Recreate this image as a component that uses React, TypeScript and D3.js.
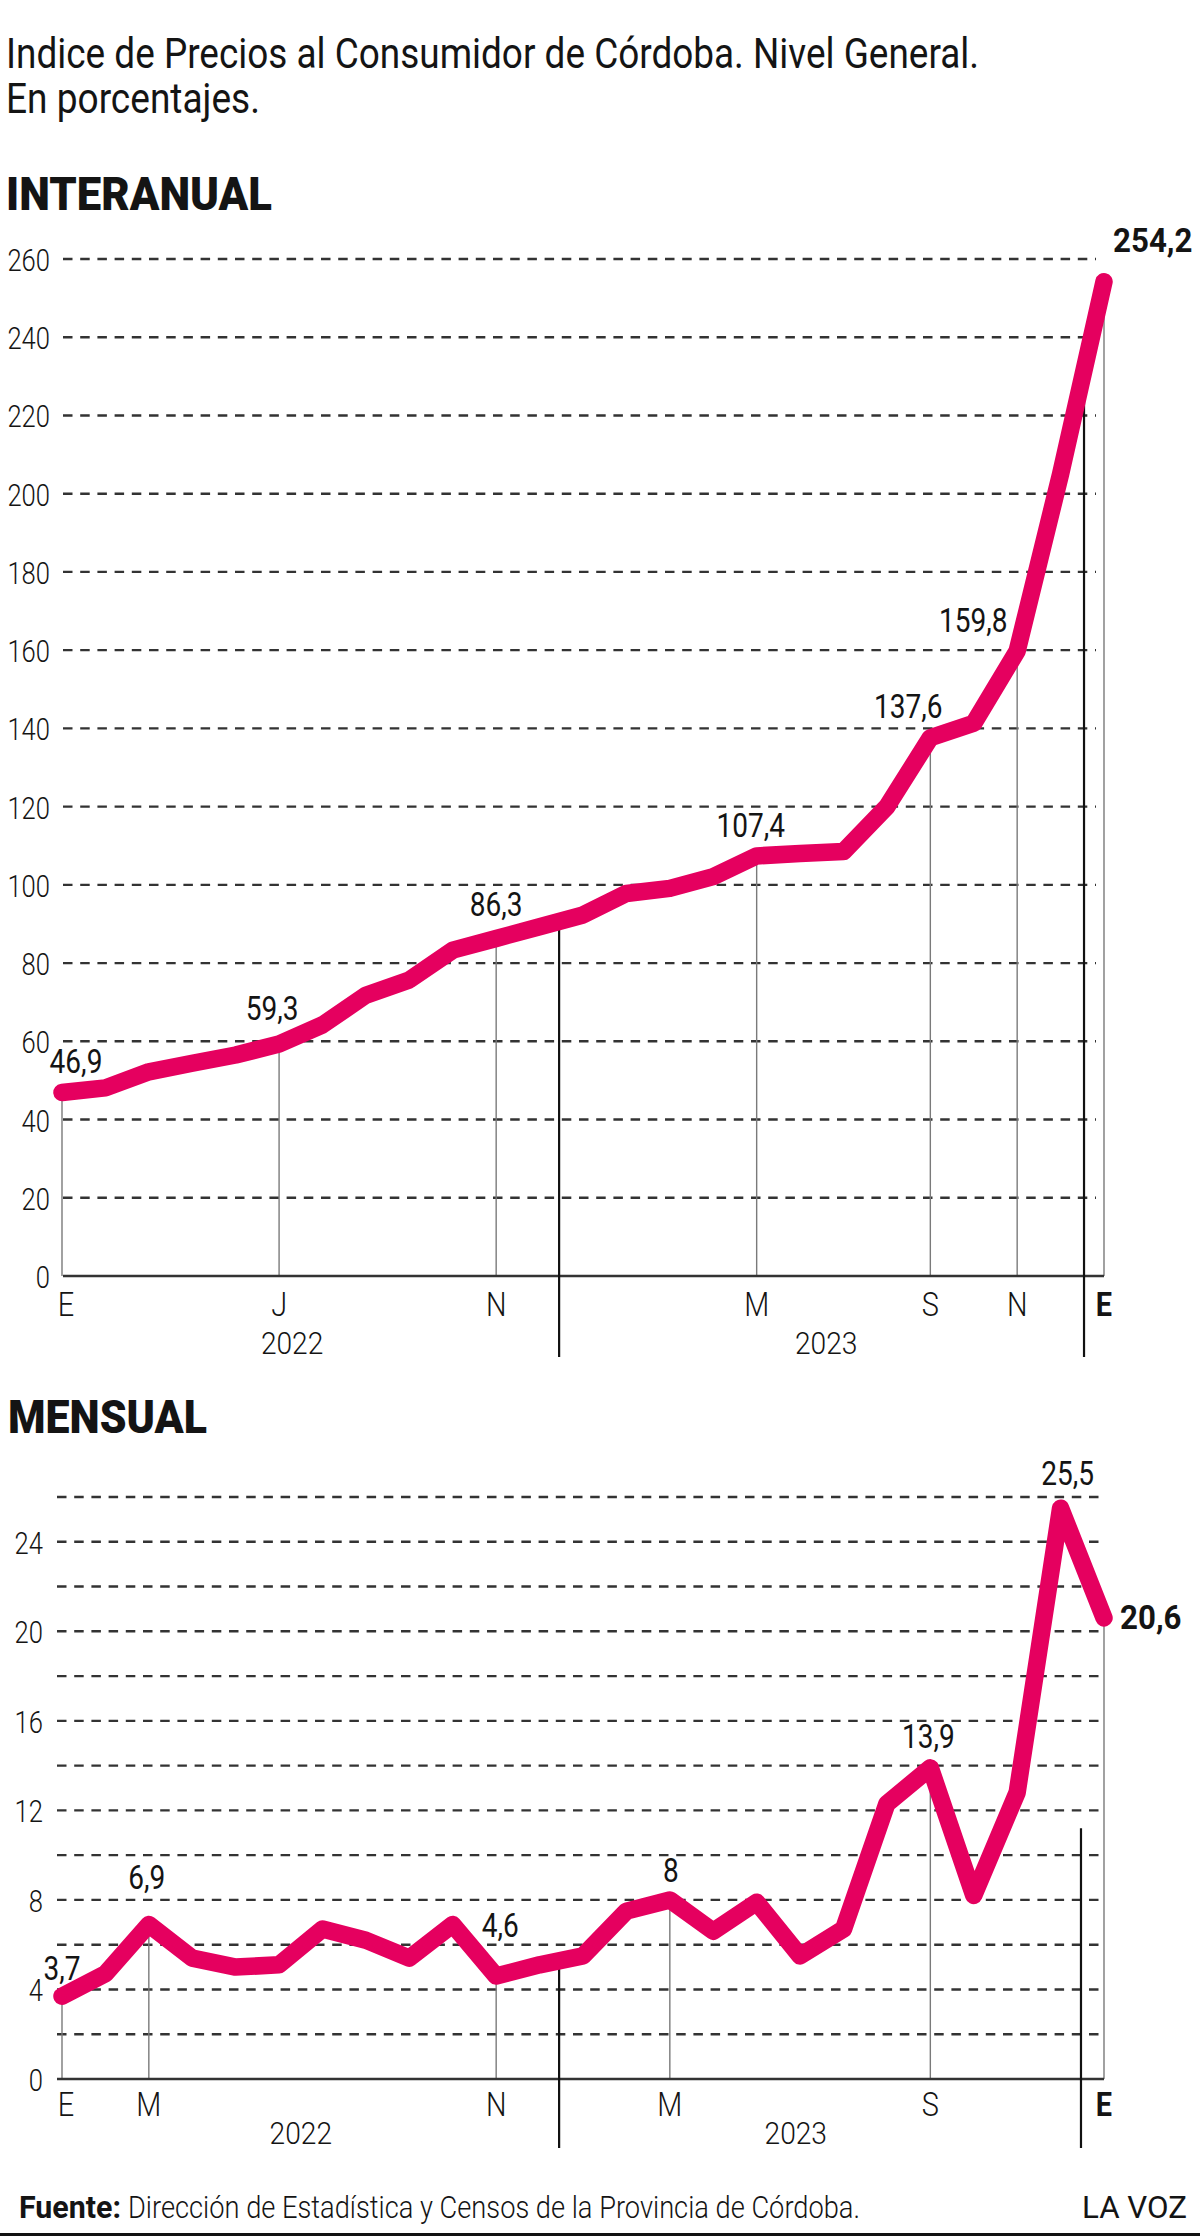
import React from "react"
import * as d3 from "d3"

// meses de la serie (ene-22 a ene-24)
const meses = [
  "ene-22", "feb-22", "mar-22", "abr-22", "may-22", "jun-22", "jul-22", "ago-22",
  "sep-22", "oct-22", "nov-22", "dic-22", "ene-23", "feb-23", "mar-23", "abr-23",
  "may-23", "jun-23", "jul-23", "ago-23", "sep-23", "oct-23", "nov-23", "dic-23", "ene-24"
]

// variación interanual (%)
const interanual = [
  46.9, 48.1, 52.2, 54.4, 56.5, 59.3, 64.2, 71.8, 75.7, 83.3, 86.3, 89.3,
  92.3, 97.8, 99.1, 102.1, 107.4, 108.0, 108.5, 120.0, 137.6, 141.3, 159.8, 205.0, 254.2
]

// variación mensual (%)
const mensual = [
  3.7, 4.7, 6.9, 5.4, 5.0, 5.1, 6.7, 6.2, 5.4, 6.9, 4.6, 5.1,
  5.5, 7.5, 8, 6.6, 7.9, 5.5, 6.7, 12.3, 13.9, 8.2, 12.8, 25.5, 20.6
]

const interanualTicks = [0, 20, 40, 60, 80, 100, 120, 140, 160, 180, 200, 220, 240, 260]
const interanualGrid = [20, 40, 60, 80, 100, 120, 140, 160, 180, 200, 220, 240, 260]
const mensualTicks = [0, 4, 8, 12, 16, 20, 24]
const mensualGrid = [2, 4, 6, 8, 10, 12, 14, 16, 18, 20, 22, 24, 26]

const interanualMarcas = [["ene-22", "E"], ["jun-22", "J"], ["nov-22", "N"], ["may-23", "M"], ["sep-23", "S"], ["nov-23", "N"], ["ene-24", "E"]]
const mensualMarcas = [["ene-22", "E"], ["mar-22", "M"], ["nov-22", "N"], ["mar-23", "M"], ["sep-23", "S"], ["ene-24", "E"]]

const interanualEtiquetas = ["ene-22", "jun-22", "nov-22", "may-23", "sep-23", "nov-23", "ene-24"]
const mensualEtiquetas = ["ene-22", "mar-22", "nov-22", "mar-23", "sep-23", "dic-23", "ene-24"]

const anios = ["2022", "2023"]

const FONT = "Roboto, 'Open Sans', 'DejaVu Sans', sans-serif"
const ROSA = "#e5005f"
const TINTA = "#141414"

const fmt = (v: number) => String(v).replace(".", ",")

function Txt({ x, y, anchor = "middle", size = 32, weight = 300, sx = 0.8, children }: any) {
  return (
    <text
      transform={`translate(${x},${y}) scale(${sx},1)`}
      textAnchor={anchor}
      fontSize={size}
      fontWeight={weight}
      fill={TINTA}
    >
      {children}
    </text>
  )
}

function Panel(p: any) {
  const x = d3.scaleLinear().domain([0, meses.length - 1]).range([62, 1104])
  const y = d3.scaleLinear().domain([0, p.yMax]).range([p.bottom, p.top])
  const linea = d3.line<number>().x((d, i) => x(i)).y(d => y(d))
  const idx = (m: string) => meses.indexOf(m)

  return (
    <g>
      {/* grilla punteada */}
      {p.grid.map((g: number) => (
        <line key={"g" + g} x1={p.gridStart} x2={p.gridEnd} y1={y(g)} y2={y(g)}
          stroke="#333" strokeWidth={2.4} strokeDasharray="9.5 7.7" />
      ))}
      {p.ticks.map((t: number) => (
        <Txt key={"t" + t} x={p.tickRight} y={y(t) + 12} anchor="end">{t}</Txt>
      ))}

      {/* guías verticales hasta el eje */}
      {p.marcas.map(([m]: string[]) => (
        <line key={"v" + m} x1={x(idx(m))} x2={x(idx(m))} y1={y(p.values[idx(m)])} y2={p.bottom}
          stroke="#7a7a7a" strokeWidth={1.4} />
      ))}

      <line x1={p.gridStart} x2={1104} y1={p.bottom} y2={p.bottom} stroke="#333" strokeWidth={2.6} />

      {/* separadores de año */}
      {p.separadores.map(([at, desde]: number[]) => (
        <line key={"s" + at} x1={x(at)} x2={x(at)} y1={y(desde)} y2={p.bottom + p.sepBelow}
          stroke="#111" strokeWidth={2.2} />
      ))}

      <path d={linea(p.values) || ""} fill="none" stroke={ROSA} strokeWidth={17.5}
        strokeLinecap="round" strokeLinejoin="round" />

      {/* valores destacados */}
      {p.etiquetas.map((m: string, k: number) => {
        const i = idx(m)
        const [dx, dy, anchor, bold] = p.etiquetaPos[k]
        return (
          <Txt key={"e" + m} x={x(i) + dx} y={y(p.values[i]) + dy} anchor={anchor}
            size={bold ? 34 : 33} weight={bold ? 700 : 400} sx={bold ? 0.92 : 0.85}>
            {fmt(p.values[i])}
          </Txt>
        )
      })}

      {/* meses y años */}
      {p.marcas.map(([m, l]: string[], k: number) => (
        <Txt key={"m" + m} x={x(idx(m)) + (k === 0 ? 4 : 0)} y={p.bottom + p.monthDy}
          size={34} weight={k === p.marcas.length - 1 ? 700 : 300} sx={0.85}>{l}</Txt>
      ))}
      {anios.map((a, k) => (
        <Txt key={a} x={x(p.yearAt[k])} y={p.bottom + p.yearDy} size={32} sx={0.88}>{a}</Txt>
      ))}
    </g>
  )
}

export default function App() {
  return (
    <svg width={1200} height={2236} style={{ position: "absolute", left: 0, top: 0, background: "#fff" }}
      fontFamily={FONT}>
      <rect width={1200} height={2236} fill="#fff" />

      <text x={6} y={68} fontSize={43} fill={TINTA} textLength={973} lengthAdjust="spacingAndGlyphs">
        Indice de Precios al Consumidor de Córdoba. Nivel General.
      </text>
      <text x={6} y={113} fontSize={43} fill={TINTA} textLength={254} lengthAdjust="spacingAndGlyphs">
        En porcentajes.
      </text>

      <text x={6} y={210} fontSize={47} fontWeight={900} fill={TINTA} textLength={266} lengthAdjust="spacingAndGlyphs">
        INTERANUAL
      </text>
      <Panel
        values={interanual}
        yMax={260} top={259} bottom={1276}
        grid={interanualGrid} ticks={interanualTicks}
        gridStart={63} gridEnd={1096} tickRight={50}
        marcas={interanualMarcas}
        etiquetas={interanualEtiquetas}
        etiquetaPos={[[14, -20, "middle"], [-7, -24, "middle"], [0, -22, "middle"], [-6, -19, "middle"],
          [-22, -20, "middle"], [-44, -19, "middle"], [9, -30, "start", true]]}
        separadores={[[11.45, 90.8], [23.54, 228]]}
        sepBelow={81}
        monthDy={40} yearDy={78} yearAt={[5.3, 17.6]}
      />

      <text x={8} y={1433} fontSize={47} fontWeight={900} fill={TINTA} textLength={199} lengthAdjust="spacingAndGlyphs">
        MENSUAL
      </text>
      <Panel
        values={mensual}
        yMax={26} top={1497} bottom={2079}
        grid={mensualGrid} ticks={mensualTicks}
        gridStart={57} gridEnd={1105} tickRight={43}
        marcas={mensualMarcas}
        etiquetas={mensualEtiquetas}
        etiquetaPos={[[0, -16, "middle"], [-2, -36, "middle"], [4, -39, "middle"], [1, -18, "middle"],
          [-2, -20, "middle"], [7, -23, "middle"], [16, 11, "start", true]]}
        separadores={[[11.45, 5.2], [23.47, 11.2]]}
        sepBelow={69}
        monthDy={37} yearDy={65} yearAt={[5.5, 16.9]}
      />

      {/* fuente */}
      <text x={19} y={2218} fontSize={32} fontWeight={700} fill={TINTA} textLength={102} lengthAdjust="spacingAndGlyphs">
        Fuente:
      </text>
      <text x={128} y={2218} fontSize={32} fontWeight={300} fill={TINTA} textLength={732} lengthAdjust="spacingAndGlyphs">
        Dirección de Estadística y Censos de la Provincia de Córdoba.
      </text>
      <text x={1187} y={2218} fontSize={32} fontWeight={400} fill={TINTA} textAnchor="end" textLength={105} lengthAdjust="spacingAndGlyphs">
        LA VOZ
      </text>
      <rect x={0} y={2233} width={1200} height={3} fill="#111" />
    </svg>
  )
}
